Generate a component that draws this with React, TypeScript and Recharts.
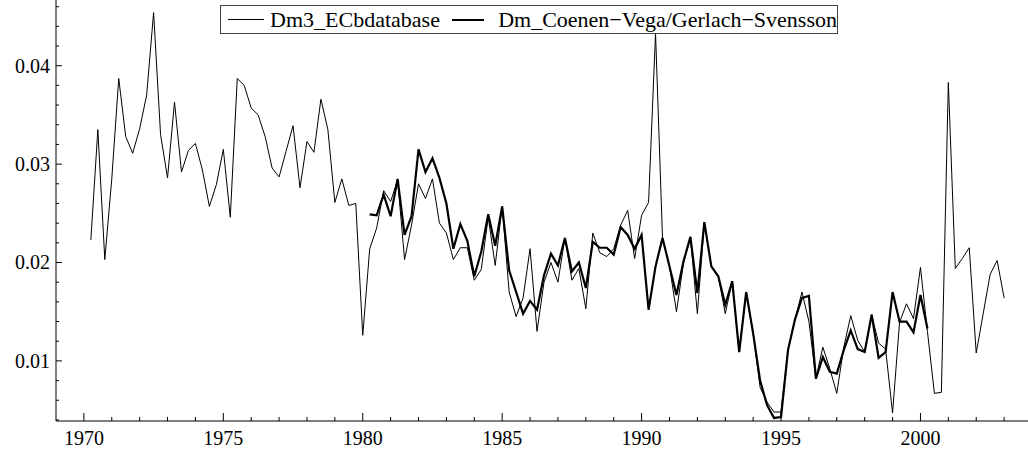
import { Line, LineChart, XAxis, YAxis } from "recharts";

// quarterly series, first value at dm3Start, one value per quarter
const dm3Start = 1970.25;
const dm3Values = [
  0.0223, 0.0335, 0.0203,
  0.0285, 0.0387, 0.0328, 0.0311,
  0.0336, 0.037, 0.0454, 0.033,
  0.0286, 0.0363, 0.0292, 0.0314,
  0.0321, 0.0294, 0.0257, 0.0279,
  0.0315, 0.0246, 0.0387, 0.038,
  0.0357, 0.035, 0.0328, 0.0296,
  0.0287, 0.0313, 0.0339, 0.0276,
  0.0323, 0.0312, 0.0366, 0.0335,
  0.0261, 0.0285, 0.0258, 0.026,
  0.0126, 0.0214, 0.0235, 0.0273,
  0.0262, 0.0284, 0.0203, 0.0238,
  0.028, 0.0265, 0.0285, 0.024,
  0.023, 0.0203, 0.0215, 0.0215,
  0.0182, 0.0193, 0.0246, 0.0197,
  0.0257, 0.017, 0.0145, 0.0164,
  0.0214, 0.013, 0.018, 0.02,
  0.018, 0.0225, 0.0182, 0.0194,
  0.0153, 0.023, 0.021, 0.0206,
  0.0214, 0.0238, 0.0253, 0.0204,
  0.0248, 0.0261, 0.0433, 0.0225,
  0.0196, 0.015, 0.0199, 0.0226,
  0.0148, 0.0241, 0.0196, 0.0186,
  0.0148, 0.0181, 0.0109, 0.017,
  0.0128, 0.0073, 0.0058, 0.0048,
  0.0048, 0.0111, 0.0142, 0.017,
  0.014, 0.0082, 0.0114, 0.0092,
  0.0067, 0.0114, 0.0146, 0.0121,
  0.0109, 0.0147, 0.0118, 0.0112,
  0.0047, 0.0139, 0.0158, 0.0143,
  0.0195, 0.013, 0.0067, 0.0068,
  0.0383, 0.0194, 0.0204, 0.0215,
  0.0108, 0.0148, 0.0188, 0.0202,
  0.0164,
];

const cvStart = 1980.25;
const cvValues = [
  0.0249, 0.0248, 0.0269,
  0.0247, 0.0285, 0.0228, 0.0247,
  0.0315, 0.0292, 0.0306, 0.0286,
  0.026, 0.0214, 0.0239, 0.0222,
  0.0186, 0.0211, 0.0249, 0.0217,
  0.0257, 0.0192, 0.017, 0.0148,
  0.0161, 0.0152, 0.0187, 0.0209,
  0.0197, 0.0225, 0.0191, 0.02,
  0.0174, 0.0221, 0.0215, 0.0215,
  0.0208, 0.0236, 0.0228, 0.0214,
  0.0228, 0.0152, 0.0196, 0.0225,
  0.0196, 0.0167, 0.0201, 0.0226,
  0.0169, 0.0241, 0.0196, 0.0186,
  0.0157, 0.0181, 0.0109, 0.017,
  0.0128, 0.008, 0.0055, 0.0042,
  0.0043, 0.0111, 0.0142, 0.0164,
  0.0166, 0.0082, 0.0104, 0.0089,
  0.0087, 0.0111, 0.0131, 0.0112,
  0.0109, 0.0147, 0.0103, 0.0109,
  0.017, 0.014, 0.014, 0.0129,
  0.0167, 0.0133,
];

const xTicks = [
  1970, 1971, 1972, 1973, 1974, 1975, 1976, 1977, 1978, 1979, 1980, 1981,
  1982, 1983, 1984, 1985, 1986, 1987, 1988, 1989, 1990, 1991, 1992, 1993,
  1994, 1995, 1996, 1997, 1998, 1999, 2000, 2001, 2002, 2003,
];
const yTicks = [
  0.004, 0.006, 0.008, 0.01, 0.012, 0.014, 0.016, 0.018, 0.02, 0.022, 0.024,
  0.026, 0.028, 0.03, 0.032, 0.034, 0.036, 0.038, 0.04, 0.042, 0.044, 0.046,
];

const labelA = "Dm3_ECbdatabase";
const labelB = "Dm_Coenen\u2212Vega/Gerlach\u2212Svensson";

const FONT = "'Liberation Serif', 'Times New Roman', serif";

// merge both series into one table keyed on time
const buildRows = () => {
  const rows: { t: number; a?: number; b?: number }[] = [];
  dm3Values.forEach((v, i) => {
    rows.push({ t: dm3Start + i * 0.25, a: v });
  });
  cvValues.forEach((v, i) => {
    const t = cvStart + i * 0.25;
    const row = rows.find((r) => Math.abs(r.t - t) < 1e-6);
    if (row) row.b = v;
    else rows.push({ t, b: v });
  });
  return rows.sort((p, q) => p.t - q.t);
};

const rows = buildRows();

function XTick(props: any) {
  const { x, y, payload } = props;
  const major = payload.value % 5 === 0;
  return (
    <g>
      <line x1={x} y1={y} x2={x} y2={y - (major ? 8 : 4)} stroke="#000" strokeWidth={1} />
      {major && (
        <text x={x} y={y + 24} textAnchor="middle" fontSize={20} fontFamily={FONT} fill="#000">
          {payload.value}
        </text>
      )}
    </g>
  );
}

function YTick(props: any) {
  const { x, y, payload } = props;
  const v = payload.value * 100;
  const major = Math.abs(v - Math.round(v)) < 1e-6;
  return (
    <g>
      <line x1={x} y1={y} x2={x + (major ? 6 : 3)} y2={y} stroke="#000" strokeWidth={1} />
      {major && (
        <text x={x - 6} y={y + 7} textAnchor="end" fontSize={20} fontFamily={FONT} fill="#000">
          {payload.value.toFixed(2)}
        </text>
      )}
    </g>
  );
}

export default function App() {
  return (
    <div
      style={{
        position: "fixed",
        left: 0,
        top: 0,
        width: 1028,
        height: 453,
        overflow: "hidden",
        background: "#fff",
      }}
    >
      <LineChart
        width={1032}
        height={453}
        data={rows}
        margin={{ top: 0, right: 0, bottom: 0, left: 0 }}
      >
        <XAxis
          dataKey="t"
          type="number"
          domain={[1969, 2004]}
          ticks={xTicks}
          interval={0}
          height={32}
          tickSize={0}
          tickMargin={0}
          tick={<XTick />}
          axisLine={{ stroke: "#555", strokeWidth: 1.5 }}
          allowDataOverflow
        />
        <YAxis
          type="number"
          domain={[0.00389, 0.04668]}
          ticks={yTicks}
          interval={0}
          width={56}
          tickSize={0}
          tickMargin={0}
          tick={<YTick />}
          axisLine={{ stroke: "#555", strokeWidth: 1.5 }}
          allowDataOverflow
        />
        <Line
          type="linear"
          dataKey="a"
          stroke="#000"
          strokeWidth={1}
          dot={false}
          connectNulls
          isAnimationActive={false}
          name={labelA}
        />
        <Line
          type="linear"
          dataKey="b"
          stroke="#000"
          strokeWidth={2.2}
          dot={false}
          isAnimationActive={false}
          name={labelB}
        />
      </LineChart>
      <div
        style={{
          position: "absolute",
          left: 220,
          top: 5,
          width: 616,
          height: 27,
          border: "1px solid #444",
          background: "#fff",
          display: "flex",
          alignItems: "center",
          fontFamily: FONT,
          fontSize: 22,
          color: "#000",
          whiteSpace: "nowrap",
        }}
      >
        <span style={{ display: "inline-block", width: 37, height: 0, borderTop: "1px solid #000", marginLeft: 7 }} />
        <span style={{ marginLeft: 6 }}>{labelA}</span>
        <span style={{ display: "inline-block", width: 33, height: 0, borderTop: "2.5px solid #000", marginLeft: 12 }} />
        <span style={{ marginLeft: 14 }}>{labelB}</span>
      </div>
    </div>
  );
}
